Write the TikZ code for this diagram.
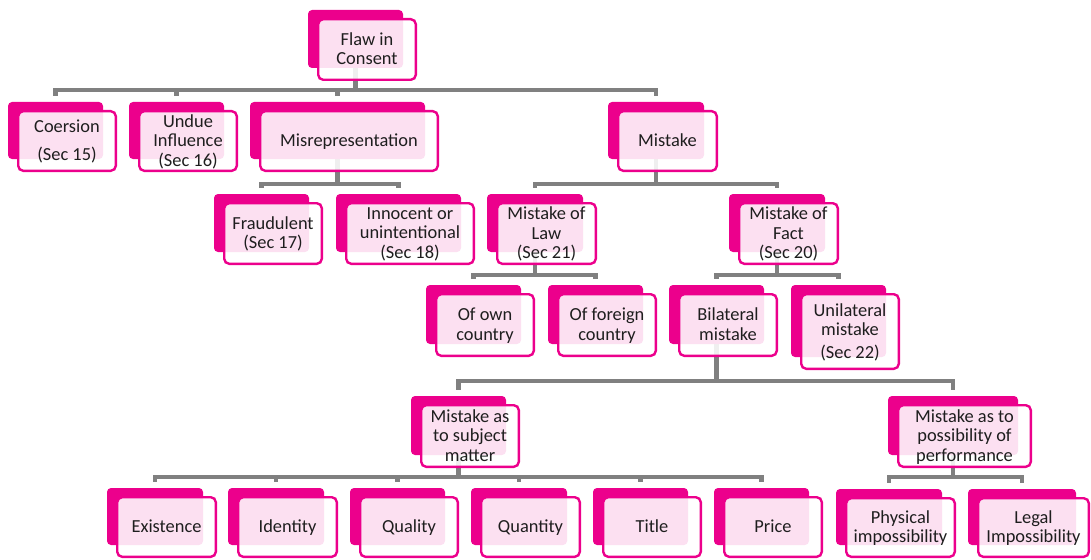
\documentclass[tikz,border=0pt]{standalone}
\usepackage{fontspec}
\setmainfont{Carlito}
\pgfdeclarelayer{background}
\pgfsetlayers{background,main}
\definecolor{mag}{RGB}{236,0,140}
\definecolor{conngray}{RGB}{128,128,128}
\definecolor{txt}{RGB}{30,30,30}
\newcommand\mystrut{\rule[-4.5pt]{0pt}{16pt}}
\newcommand\pairbox[6]{%
  \pgfmathsetmacro\bw{#4-#2-5}\pgfmathsetmacro\bh{#5-#3-5}%
  \pgfmathsetmacro\fw{#4-#2-2.4}\pgfmathsetmacro\fh{#5-#3-2.4}%
  \node[backbox,minimum width=\bw pt,minimum height=\bh pt] (#1) at (#2-9,#3-8) {};
  \node[frontbox,minimum width=\fw pt,minimum height=\fh pt] (#1-f) at (#2,#3) {};
  \node[lbl] (#1-t) at ([yshift=-1.5pt]#1-f.center) {#6};
}
\begin{document}
\begin{tikzpicture}[x=1pt,y=-1pt,
  backbox/.style={anchor=north west,fill=mag,rounded corners=4pt,inner sep=0pt,outer sep=0pt},
  frontbox/.style={anchor=north west,draw=mag,line width=2.4pt,fill=white,fill opacity=0.88,rounded corners=5pt,inner sep=0pt},
  lbl/.style={text=txt,align=center,inner sep=0pt,font=\fontsize{18.4}{19.5}\selectfont,
    execute at begin node=\mystrut, execute at end node=\mystrut},
  conn/.style={draw=conngray,line width=4.2pt}]
\useasboundingbox (0,0) rectangle (1091,559);
\pairbox{flaw}{317}{18}{417}{81}{Flaw in\\Consent}
\pairbox{coer}{17}{110}{117}{172}{Coersion\\[8.5pt](Sec 15)}
\pairbox{undue}{138}{110}{238}{172}{Undue\\Influence\\(Sec 16)}
\pairbox{misrep}{259}{110}{439}{172}{Misrepresentation}
\pairbox{mistake}{617}{110}{718}{172}{Mistake}
\pairbox{fraud}{223}{202}{323}{265}{Fraudulent\\(Sec 17)}
\pairbox{innoc}{345}{202}{475}{265}{Innocent or\\unintentional\\(Sec 18)}
\pairbox{law}{496}{202}{597}{265}{Mistake of\\Law\\(Sec 21)}
\pairbox{fact}{738}{202}{839}{265}{Mistake of\\Fact\\(Sec 20)}
\pairbox{own}{435}{293}{535}{357}{Of own\\country}
\pairbox{foreign}{557}{293}{657}{357}{Of foreign\\country}
\pairbox{bilat}{678}{293}{778}{357}{Bilateral\\mistake}
\pairbox{unilat}{800}{293}{900}{370}{Unilateral\\mistake\\[3pt](Sec 22)}
\pairbox{subject}{420}{404}{520}{468}{Mistake as\\to subject\\matter}
\pairbox{possib}{897}{404}{1032}{468}{Mistake as to\\possibility of\\performance}
\pairbox{exist}{116}{496}{217}{558}{Existence}
\pairbox{ident}{237}{496}{338}{558}{Identity}
\pairbox{quality}{359}{496}{459}{558}{Quality}
\pairbox{quantity}{480}{496}{581}{558}{Quantity}
\pairbox{title}{602}{496}{702}{558}{Title}
\pairbox{price}{723}{496}{823}{558}{Price}
\pairbox{phys}{845}{497}{956}{558}{Physical\\impossibility}
\pairbox{legal}{977}{497}{1090}{558}{Legal\\Impossibility}
\coordinate (bus1) at (0,90);
\coordinate (bus2) at (0,184);
\coordinate (bus3) at (0,275);
\coordinate (bus4) at (0,381);
\coordinate (bus5) at (0,477);
\begin{pgfonlayer}{background}
\foreach \p/\b/\c in {flaw/bus1/coer,flaw/bus1/undue,flaw/bus1/misrep,flaw/bus1/mistake,
  misrep/bus2/fraud,misrep/bus2/innoc,mistake/bus2/law,mistake/bus2/fact,
  law/bus3/own,law/bus3/foreign,fact/bus3/bilat,fact/bus3/unilat,
  bilat/bus4/subject,bilat/bus4/possib,
  subject/bus5/exist,subject/bus5/ident,subject/bus5/quality,subject/bus5/quantity,subject/bus5/title,subject/bus5/price,
  possib/bus5/phys,possib/bus5/legal}
  \draw[conn] (\p.south) -- (\p.south |- \b) -| ([yshift=6pt]\c.north);
\end{pgfonlayer}
\end{tikzpicture}
\end{document}
